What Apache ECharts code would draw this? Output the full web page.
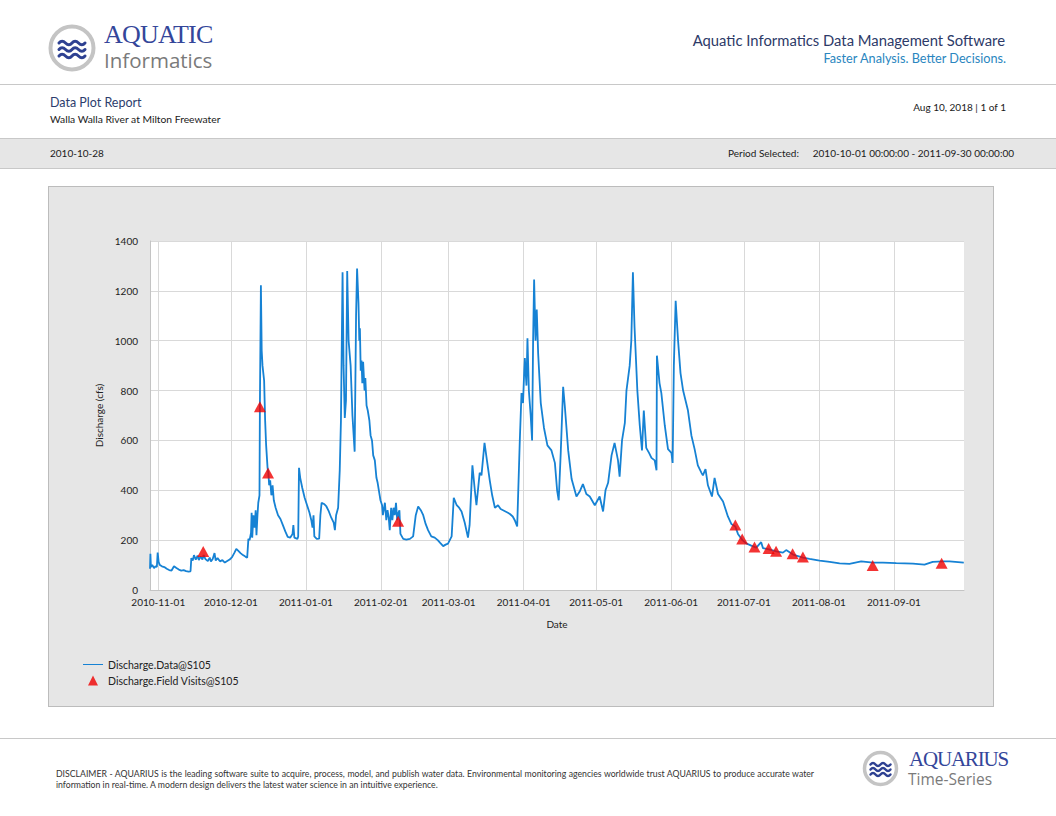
<!DOCTYPE html>
<html>
<head>
<meta charset="utf-8">
<title>Data Plot Report</title>
<script src="https://cdn.jsdelivr.net/npm/echarts@6.0.0/dist/echarts.min.js"></script>
<style>
  html, body { margin: 0; padding: 0; background: #fff; }
  body { width: 1056px; height: 816px; position: relative; overflow: hidden; font-family: Lato, "Open Sans", sans-serif; color: #222; }
  .t { position: absolute; white-space: nowrap; line-height: 1; }
  .r { text-align: right; }
  .rule { position: absolute; left: 0; width: 1056px; height: 1px; background: #c8c8c8; }
  .band { position: absolute; left: 0; top: 138px; width: 1056px; height: 29px; background: #e6e6e6; border-top: 1px solid #c8c8c8; border-bottom: 1px solid #c8c8c8; }
  .serif { font-family: "Liberation Serif", "DejaVu Serif", serif; color: #34469a; }
  .sans-grey { font-family: "Open Sans", sans-serif; color: #7a7a7a; }
  #panel { position: absolute; left: 48px; top: 186px; width: 944px; height: 519px; background: #e6e6e6; border: 1px solid #bcbcbc; }
  #chart { width: 944px; height: 519px; }
  .disc { font-size: 8.7px; color: #333; left: 56px; }
</style>
</head>
<body>
  <!-- header -->
  <svg class="t" style="left:46px;top:21px" width="52" height="54" viewBox="0 0 52 54">
    <circle cx="26" cy="27" r="21.5" fill="#fff" stroke="#c4c4c4" stroke-width="4"/>
    <g fill="none" stroke="#2e4192" stroke-width="3" stroke-linecap="round">
      <path d="M13,22 q3,-3.5 6.5,0 t6.5,0 t6.5,0 t6.5,0"/>
      <path d="M13,28.5 q3,-3.5 6.5,0 t6.5,0 t6.5,0 t6.5,0"/>
      <path d="M13,35 q3,-3.5 6.5,0 t6.5,0 t6.5,0 t6.5,0"/>
    </g>
  </svg>
  <div class="t serif" style="left:104px;top:22px;font-size:26px;letter-spacing:-0.8px">AQUATIC</div>
  <div class="t sans-grey" style="left:104px;top:50px;font-size:20.5px">Informatics</div>

  <div class="t r" style="right:51px;top:33px;font-size:14.8px;color:#2d3a68">Aquatic Informatics Data Management Software</div>
  <div class="t r" style="right:50px;top:52px;font-size:12.7px;color:#2a86c0">Faster Analysis. Better Decisions.</div>

  <div class="rule" style="top:84px"></div>

  <div class="t" style="left:50px;top:97px;font-size:12.5px;color:#2c3d6d">Data Plot Report</div>
  <div class="t" style="left:50px;top:114px;font-size:10.3px;color:#1a1a1a">Walla Walla River at Milton Freewater</div>
  <div class="t r" style="right:50px;top:102px;font-size:10px;color:#1a1a1a">Aug 10, 2018 | 1 of 1</div>

  <div class="band"></div>
  <div class="t" style="left:50px;top:148px;font-size:10px;color:#1a1a1a">2010-10-28</div>
  <div class="t" style="left:728px;top:148px;font-size:10px;color:#1a1a1a">Period Selected:</div>
  <div class="t r" style="right:42px;top:148px;font-size:10px;color:#1a1a1a">2010-10-01 00:00:00 - 2011-09-30 00:00:00</div>

  <div id="panel"><div id="chart"></div></div>

  <!-- footer -->
  <div class="rule" style="top:738px"></div>
  <div class="t disc" style="top:770px;width:758px;text-align:justify;text-align-last:justify;white-space:normal">DISCLAIMER - AQUARIUS is the leading software suite to acquire, process, model, and publish water data. Environmental monitoring agencies worldwide trust AQUARIUS to produce accurate water</div>
  <div class="t disc" style="top:781px">information in real-time. A modern design delivers the latest water science in an intuitive experience.</div>

  <svg class="t" style="left:861px;top:749px" width="40" height="40" viewBox="0 0 40 40">
    <circle cx="19.5" cy="19.5" r="16" fill="#fff" stroke="#c4c4c4" stroke-width="3.5"/>
    <g fill="none" stroke="#2e4192" stroke-width="2.4" stroke-linecap="round">
      <path d="M9.5,15.5 q2.5,-3 5,0 t5,0 t5,0 t5,0"/>
      <path d="M9.5,20.5 q2.5,-3 5,0 t5,0 t5,0 t5,0"/>
      <path d="M9.5,25.5 q2.5,-3 5,0 t5,0 t5,0 t5,0"/>
    </g>
  </svg>
  <div class="t serif" style="left:909px;top:749px;font-size:21px;letter-spacing:-1.2px">AQUARIUS</div>
  <div class="t sans-grey" style="left:908px;top:772px;font-size:15.5px">Time-Series</div>

<script>
  // discharge record
  const flowTimes = [
    "2010-10-28 14:00", "2010-10-28 18:00", "2010-10-28 23:00", "2010-10-29 12:00", "2010-10-30 06:00",
    "2010-10-30 20:00", "2010-10-31 10:00", "2010-10-31 18:00", "2010-11-01 04:00", "2010-11-01 16:00",
    "2010-11-02 12:00", "2010-11-03 12:00", "2010-11-04 12:00", "2010-11-05 12:00", "2010-11-06 12:00",
    "2010-11-07 12:00", "2010-11-08 12:00", "2010-11-09 12:00", "2010-11-10 12:00", "2010-11-11 12:00",
    "2010-11-12 12:00", "2010-11-13 12:00", "2010-11-14 08:00", "2010-11-14 16:00", "2010-11-15 06:00",
    "2010-11-15 18:00", "2010-11-16 12:00", "2010-11-17 06:00", "2010-11-17 18:00", "2010-11-18 12:00",
    "2010-11-19 06:00", "2010-11-19 18:00", "2010-11-20 12:00", "2010-11-21 12:00", "2010-11-22 06:00",
    "2010-11-22 18:00", "2010-11-23 12:00", "2010-11-24 06:00", "2010-11-24 18:00", "2010-11-25 12:00",
    "2010-11-26 12:00", "2010-11-27 12:00", "2010-11-28 12:00", "2010-11-29 12:00", "2010-11-30 12:00",
    "2010-12-01 12:00", "2010-12-02 12:00", "2010-12-03 06:00", "2010-12-04 00:00", "2010-12-05 00:00",
    "2010-12-06 00:00", "2010-12-07 00:00", "2010-12-07 18:00", "2010-12-08 06:00", "2010-12-08 18:00",
    "2010-12-09 08:00", "2010-12-09 14:00", "2010-12-09 20:00", "2010-12-10 08:00", "2010-12-10 20:00",
    "2010-12-11 06:00", "2010-12-11 14:00", "2010-12-12 00:00", "2010-12-12 08:00", "2010-12-12 20:00",
    "2010-12-13 00:00", "2010-12-13 10:00", "2010-12-13 18:00", "2010-12-14 02:00", "2010-12-14 10:00",
    "2010-12-14 18:00", "2010-12-15 04:00", "2010-12-15 14:00", "2010-12-16 04:00", "2010-12-16 12:00",
    "2010-12-16 20:00", "2010-12-17 06:00", "2010-12-17 18:00", "2010-12-18 06:00", "2010-12-18 18:00",
    "2010-12-19 12:00", "2010-12-20 12:00", "2010-12-21 12:00", "2010-12-22 12:00", "2010-12-23 12:00",
    "2010-12-24 12:00", "2010-12-25 12:00", "2010-12-26 12:00", "2010-12-26 20:00", "2010-12-27 06:00",
    "2010-12-28 12:00", "2010-12-28 20:00", "2010-12-29 04:00", "2010-12-29 16:00", "2010-12-30 12:00",
    "2010-12-31 12:00", "2011-01-01 12:00", "2011-01-02 12:00", "2011-01-03 06:00", "2011-01-03 18:00",
    "2011-01-04 04:00", "2011-01-04 12:00", "2011-01-05 12:00", "2011-01-06 12:00", "2011-01-07 00:00",
    "2011-01-07 12:00", "2011-01-08 12:00", "2011-01-09 12:00", "2011-01-10 12:00", "2011-01-11 12:00",
    "2011-01-12 12:00", "2011-01-13 00:00", "2011-01-13 12:00", "2011-01-14 08:00", "2011-01-15 00:00",
    "2011-01-15 12:00", "2011-01-16 04:00", "2011-01-16 14:00", "2011-01-17 02:00", "2011-01-17 14:00",
    "2011-01-18 02:00", "2011-01-18 16:00", "2011-01-19 12:00", "2011-01-20 06:00", "2011-01-21 04:00",
    "2011-01-21 18:00", "2011-01-22 04:00", "2011-01-22 18:00", "2011-01-23 02:00", "2011-01-23 08:00",
    "2011-01-23 16:00", "2011-01-24 00:00", "2011-01-24 08:00", "2011-01-24 16:00", "2011-01-25 06:00",
    "2011-01-25 14:00", "2011-01-26 02:00", "2011-01-26 14:00", "2011-01-27 06:00", "2011-01-27 18:00",
    "2011-01-28 08:00", "2011-01-28 20:00", "2011-01-29 12:00", "2011-01-30 04:00", "2011-01-30 16:00",
    "2011-01-31 08:00", "2011-01-31 20:00", "2011-02-01 12:00", "2011-02-01 20:00", "2011-02-02 08:00",
    "2011-02-02 16:00", "2011-02-03 06:00", "2011-02-03 18:00", "2011-02-04 06:00", "2011-02-04 16:00",
    "2011-02-05 06:00", "2011-02-05 18:00", "2011-02-06 06:00", "2011-02-06 18:00", "2011-02-07 06:00",
    "2011-02-07 18:00", "2011-02-08 06:00", "2011-02-08 16:00", "2011-02-09 02:00", "2011-02-10 06:00",
    "2011-02-11 12:00", "2011-02-13 00:00", "2011-02-14 08:00", "2011-02-15 10:00", "2011-02-16 10:00",
    "2011-02-17 12:00", "2011-02-18 12:00", "2011-02-19 12:00", "2011-02-20 12:00", "2011-02-21 20:00",
    "2011-02-23 06:00", "2011-02-24 12:00", "2011-02-25 10:00", "2011-02-26 18:00", "2011-02-27 18:00",
    "2011-02-28 18:00", "2011-03-02 06:00", "2011-03-03 03:00", "2011-03-04 08:00", "2011-03-05 08:00",
    "2011-03-06 08:00", "2011-03-07 16:00", "2011-03-09 00:00", "2011-03-09 16:00", "2011-03-10 20:00",
    "2011-03-11 20:00", "2011-03-12 12:00", "2011-03-13 20:00", "2011-03-14 14:00", "2011-03-15 20:00",
    "2011-03-16 20:00", "2011-03-18 00:00", "2011-03-19 00:00", "2011-03-20 03:00", "2011-03-21 10:00",
    "2011-03-22 12:00", "2011-03-23 12:00", "2011-03-24 12:00", "2011-03-25 12:00", "2011-03-26 08:00",
    "2011-03-27 12:00", "2011-03-28 08:00", "2011-03-29 08:00", "2011-03-30 10:00", "2011-03-31 03:00",
    "2011-03-31 18:00", "2011-04-01 06:00", "2011-04-01 12:00", "2011-04-02 04:00", "2011-04-02 14:00",
    "2011-04-03 04:00", "2011-04-03 22:00", "2011-04-04 12:00", "2011-04-04 22:00", "2011-04-05 08:00",
    "2011-04-05 22:00", "2011-04-06 10:00", "2011-04-07 00:00", "2011-04-08 02:00", "2011-04-09 10:00",
    "2011-04-10 20:00", "2011-04-12 12:00", "2011-04-13 22:00", "2011-04-14 20:00", "2011-04-15 12:00",
    "2011-04-16 08:00", "2011-04-17 08:00", "2011-04-18 00:00", "2011-04-19 10:00", "2011-04-20 20:00",
    "2011-04-22 20:00", "2011-04-24 04:00", "2011-04-25 12:00", "2011-04-26 22:00", "2011-04-28 08:00",
    "2011-04-30 10:00", "2011-05-02 10:00", "2011-05-03 20:00", "2011-05-04 20:00", "2011-05-05 22:00",
    "2011-05-07 08:00", "2011-05-08 14:00", "2011-05-10 00:00", "2011-05-10 16:00", "2011-05-11 16:00",
    "2011-05-12 20:00", "2011-05-13 12:00", "2011-05-14 20:00", "2011-05-15 12:00", "2011-05-16 04:00",
    "2011-05-16 20:00", "2011-05-18 00:00", "2011-05-19 00:00", "2011-05-19 22:00", "2011-05-20 16:00",
    "2011-05-21 16:00", "2011-05-22 20:00", "2011-05-23 20:00", "2011-05-25 04:00", "2011-05-25 22:00",
    "2011-05-26 02:00", "2011-05-27 04:00", "2011-05-27 22:00", "2011-05-29 08:00", "2011-05-30 16:00",
    "2011-06-01 02:00", "2011-06-01 14:00", "2011-06-02 02:00", "2011-06-02 20:00", "2011-06-03 20:00",
    "2011-06-04 20:00", "2011-06-05 22:00", "2011-06-06 22:00", "2011-06-07 22:00", "2011-06-09 08:00",
    "2011-06-10 16:00", "2011-06-12 00:00", "2011-06-13 12:00", "2011-06-14 02:00", "2011-06-15 04:00",
    "2011-06-16 04:00", "2011-06-17 20:00", "2011-06-18 22:00", "2011-06-20 08:00", "2011-06-22 10:00",
    "2011-06-24 10:00", "2011-06-25 20:00", "2011-06-27 12:00", "2011-06-28 14:00", "2011-06-30 10:00",
    "2011-07-02 00:00", "2011-07-04 02:00", "2011-07-06 04:00", "2011-07-08 04:00", "2011-07-08 22:00",
    "2011-07-11 10:00", "2011-07-14 10:00", "2011-07-17 04:00", "2011-07-18 12:00", "2011-07-21 08:00",
    "2011-07-25 10:00", "2011-07-28 04:00", "2011-08-01 08:00", "2011-08-05 12:00", "2011-08-09 14:00",
    "2011-08-13 16:00", "2011-08-18 12:00", "2011-08-23 08:00", "2011-08-27 12:00", "2011-09-02 00:00",
    "2011-09-08 22:00", "2011-09-13 16:00", "2011-09-17 02:00", "2011-09-21 08:00", "2011-09-24 00:00",
    "2011-09-29 22:00"
  ];
  const flowValues = [
    85, 145, 92, 100, 88, 95, 92, 150, 112, 100,
    95, 92, 85, 80, 78, 95, 88, 82, 78, 80,
    76, 74, 75, 128, 118, 140, 122, 138, 120, 135,
    122, 140, 124, 116, 130, 114, 124, 148, 118, 128,
    115, 120, 110, 116, 122,
    132, 150, 165, 158, 148, 140, 134, 130, 205, 200,
    230, 310, 210, 300, 250, 320, 220, 300, 350, 380,
    735, 1222, 960, 900, 870, 840, 680, 580, 490, 470,
    420, 440, 380, 420, 360, 330, 300, 285, 260, 235,
    213, 210, 225, 260, 210, 205, 215, 490, 450, 410,
    370, 340, 310, 280, 250, 300, 215, 205, 206, 300,
    350, 345, 335, 315, 290, 270, 240, 300, 330, 480,
    680, 1275, 900, 690, 760, 1280, 1000, 900, 700, 555,
    1100, 1290, 1150, 1000, 1050, 880, 920, 830, 915, 800,
    850, 740, 720, 680, 620, 600, 540, 520, 450, 430,
    390, 360, 340, 300, 330, 350, 280, 320, 290, 240,
    330, 280, 330, 300, 350, 280, 310, 320, 225, 205,
    202, 205, 215, 300, 335, 320, 300, 265, 240, 215,
    210, 200, 190, 176, 182, 186, 215, 370, 340, 330,
    315, 270, 210, 260, 500, 400, 340, 470, 460, 590,
    520, 440, 380, 330, 340, 325, 320, 315, 310, 305,
    295, 280, 255, 600, 790, 750, 880, 930, 820, 1010,
    800, 700, 600, 1000, 1245, 1000, 1125, 950, 750, 650,
    580, 560, 510, 400, 360, 550, 815, 740, 560, 445,
    375, 395, 425, 385, 375, 340, 375, 315, 400, 430,
    540, 590, 520, 455, 600, 670, 800, 900, 1000, 1275,
    1055, 800, 660, 560, 720, 570, 550, 530, 520, 480,
    940, 830, 790, 660, 565, 550, 510, 900, 1160, 1000,
    870, 800, 760, 720, 620, 565, 500, 470, 460, 485,
    420, 375, 450, 385, 355, 295, 265, 255, 225, 200,
    187, 178, 170, 192, 168, 163, 155, 150, 160, 142,
    130, 125, 118, 113, 107, 105, 115, 110, 110, 108,
    106, 102, 113, 115, 115, 110
  ];

  // field visit measurements
  const visitTimes = [
    "2010-11-19 14:00", "2010-12-13 00:00", "2010-12-16 09:00", "2011-02-08 03:00", "2011-06-27 12:00",
    "2011-06-30 08:00", "2011-07-05 10:00", "2011-07-11 06:00", "2011-07-14 08:00", "2011-07-21 04:00",
    "2011-07-25 10:00", "2011-08-23 06:00", "2011-09-20 18:00"
  ];
  const visitValues = [154, 735, 469, 276, 261, 205, 172, 166, 155, 145, 132, 98, 107];

  const monthTicks = [
    "2010-11-01", "2010-12-01", "2011-01-01", "2011-02-01", "2011-03-01", "2011-04-01",
    "2011-05-01", "2011-06-01", "2011-07-01", "2011-08-01", "2011-09-01"
  ];

  const seriesNames = ["Discharge.Data@S105", "Discharge.Field Visits@S105"];

  function toTime(s) {
    return echarts.number.parseDate(s).getTime();
  }

  function pad(n) {
    return (n < 10 ? "0" : "") + n;
  }

  function dateLabel(value) {
    const d = new Date(value);
    return `${d.getFullYear()}-${pad(d.getMonth() + 1)}-${pad(d.getDate())}`;
  }

  const flowData = flowTimes.map((t, i) => [toTime(t), flowValues[i]]);
  const visitData = visitTimes.map((t, i) => [toTime(t), visitValues[i]]);
  const tickValues = monthTicks.map(toTime);

  const font = "Lato, 'Open Sans', sans-serif";
  const chart = echarts.init(document.getElementById("chart"), null, { renderer: "svg" });

  chart.setOption({
    animation: false,
    backgroundColor: "#e6e6e6",
    textStyle: { fontFamily: font },
    grid: {
      left: 101,
      top: 54,
      width: 814,
      height: 349,
      show: true,
      backgroundColor: "#ffffff",
      borderWidth: 0,
      containLabel: false,
      outerBoundsMode: "none"
    },
    legend: {
      orient: "vertical",
      left: 34,
      top: 472,
      padding: 0,
      itemWidth: 20,
      itemHeight: 10,
      itemGap: 5,
      textStyle: { fontFamily: font, fontSize: 10.5, color: "#222" },
      data: [
        { name: seriesNames[0], icon: "path://M0,4.5 H20 V5.5 H0 Z" },
        { name: seriesNames[1], icon: "path://M5,0 L10,10 L0,10 Z" }
      ]
    },
    xAxis: {
      // timestamps on a plain value axis, labelled at month starts
      type: "value",
      min: toTime("2010-10-28 14:00"),
      max: toTime("2011-09-30 00:00"),
      name: "Date",
      nameLocation: "middle",
      nameGap: 29,
      nameTextStyle: { fontFamily: font, fontSize: 10, color: "#222" },
      axisLine: { show: true, onZero: false, lineStyle: { color: "#c4c4c4", width: 1 } },
      axisTick: { show: false, customValues: tickValues },
      axisLabel: {
        customValues: tickValues,
        formatter: dateLabel,
        fontFamily: font,
        fontSize: 10,
        color: "#222",
        margin: 7,
        hideOverlap: false
      },
      splitLine: { show: true, lineStyle: { color: "#d9d9d9", width: 1 } }
    },
    yAxis: {
      type: "value",
      min: 0,
      max: 1400,
      interval: 200,
      name: "Discharge (cfs)",
      nameLocation: "middle",
      nameGap: 46,
      nameTextStyle: { fontFamily: font, fontSize: 10, color: "#222" },
      axisLine: { show: true, lineStyle: { color: "#c4c4c4", width: 1 } },
      axisTick: { show: false },
      axisLabel: {
        fontFamily: font,
        fontSize: 10,
        color: "#222",
        margin: 12,
        formatter: (v) => String(v)
      },
      splitLine: { show: true, lineStyle: { color: "#d9d9d9", width: 1 } }
    },
    series: [
      {
        name: seriesNames[0],
        type: "line",
        data: flowData,
        symbol: "none",
        lineStyle: { color: "#1682d4", width: 1.8 },
        itemStyle: { color: "#1682d4" },
        z: 2
      },
      {
        name: seriesNames[1],
        type: "scatter",
        data: visitData,
        symbol: "triangle",
        symbolSize: [12, 11],
        itemStyle: { color: "#f00000" },
        z: 3
      }
    ]
  });
</script>
</body>
</html>
